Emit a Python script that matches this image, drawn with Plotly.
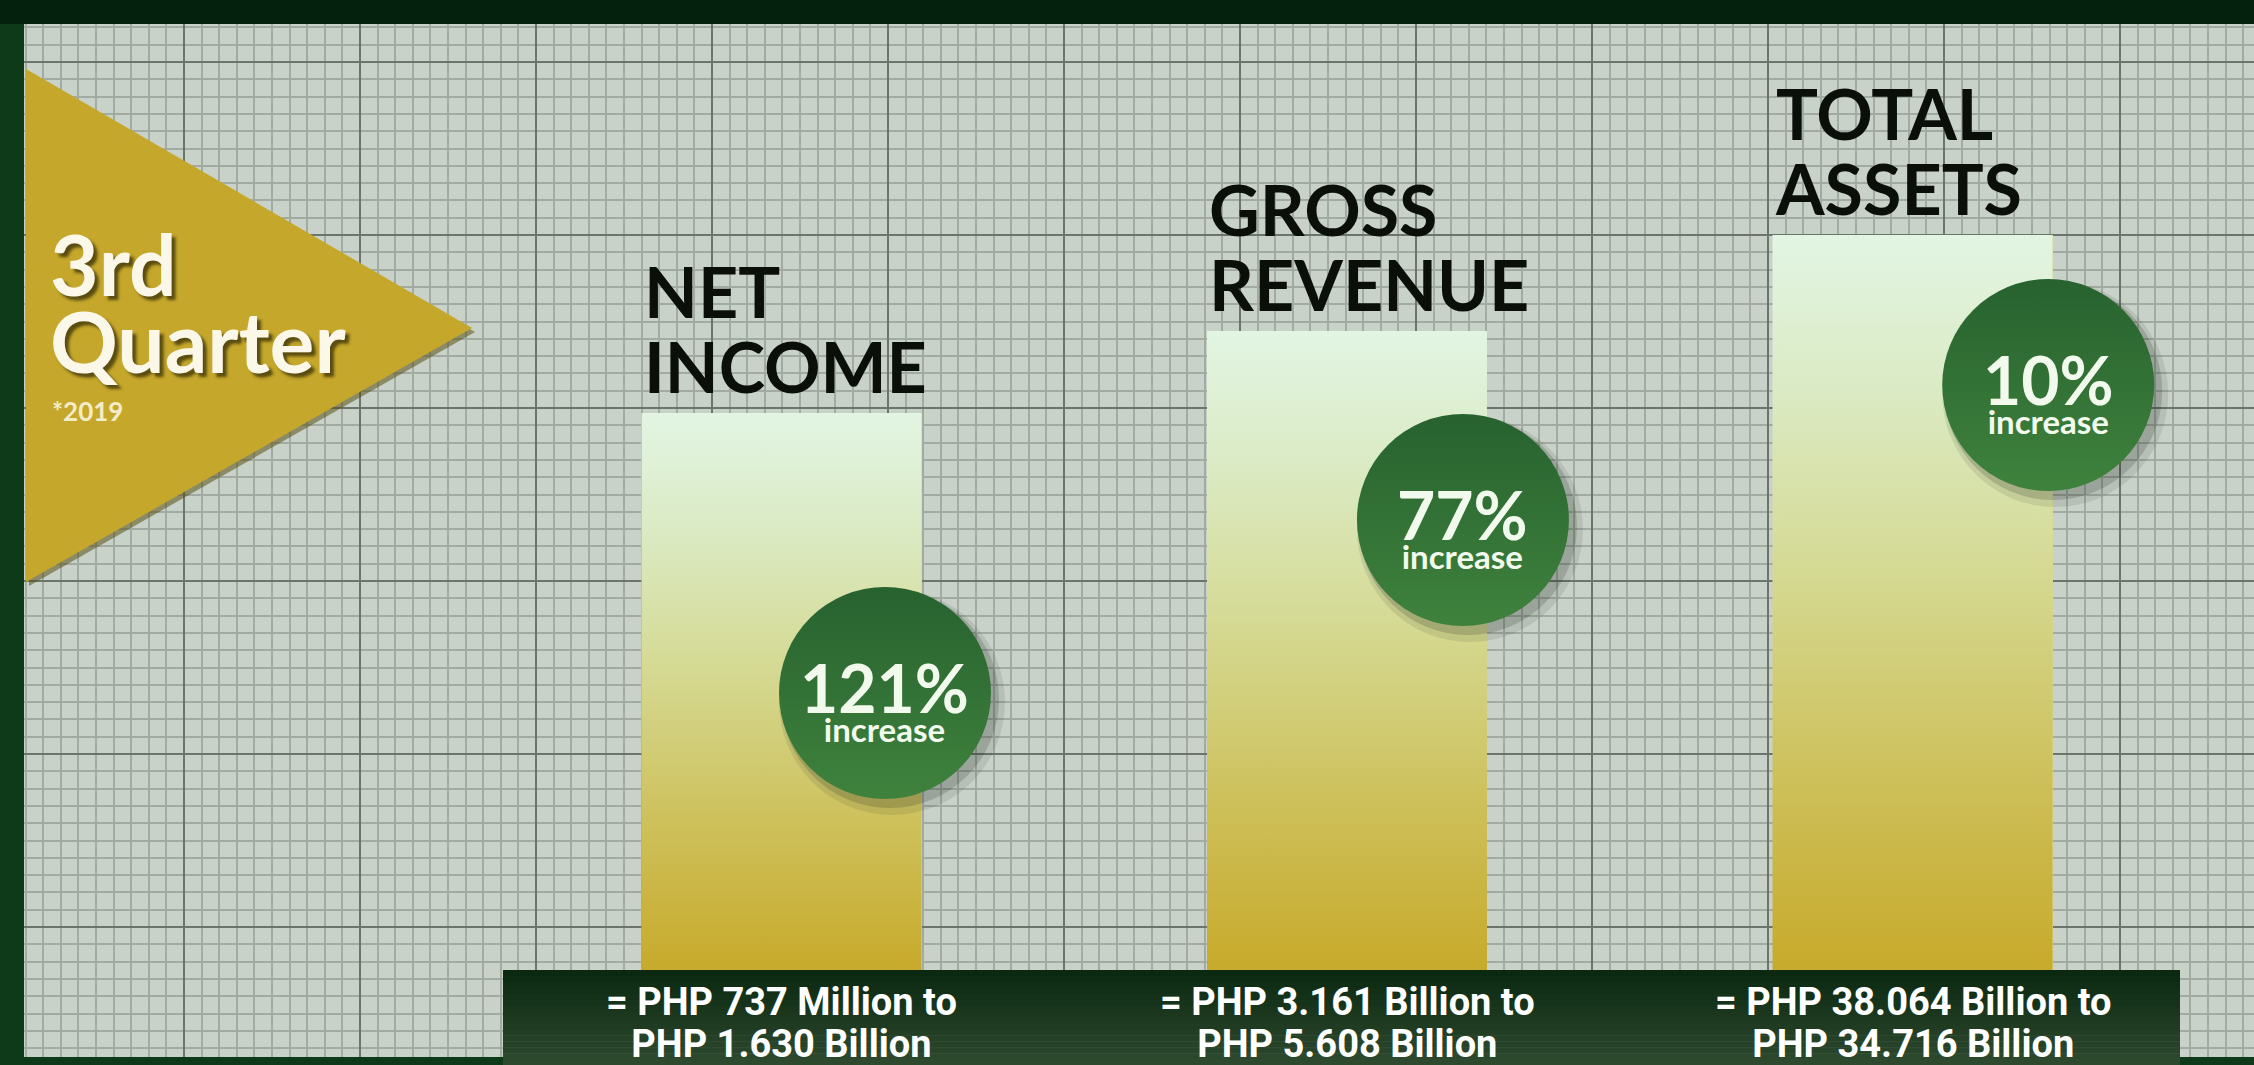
import plotly.graph_objects as go

# ---------------- data ----------------
categories = ["NET INCOME", "GROSS REVENUE", "TOTAL ASSETS"]
bar_heights = [557, 639, 735]          # relative bar heights (visual units)
pct_increase = [121, 77, 10]
from_values = ["PHP 737 Million", "PHP 3.161 Billion", "PHP 38.064 Billion"]
to_values = ["PHP 1.630 Billion", "PHP 5.608 Billion", "PHP 34.716 Billion"]
period_lines = ["3rd", "Quarter"]
year_note = "*2019"

# ---------------- layout constants ----------------
W, H = 2254, 1065
ML, MR, MT, MB = 24, 0, 24, 8
PW, PH = W - ML - MR, H - MT - MB
PX_PER_X = 565.5
X0_PAGE = 781.5                 # page px of first bar centre
Y0_PAGE = 970                   # page px of bar baseline
x_range = [(ML - X0_PAGE) / PX_PER_X, (W - MR - X0_PAGE) / PX_PER_X]
y_range = [Y0_PAGE - (H - MB), Y0_PAGE - MT]   # 1 unit = 1 px
BAR_W = 280 / PX_PER_X

badge_dx = [0.183, 0.205, 0.240]     # badge centre offset from bar centre (x units)
badge_y = [277, 450, 585]            # badge centre height (y units)
BADGE_D = 212

def px2x(p):
    return (p - X0_PAGE) / PX_PER_X

def ppx(p):      # page x px -> paper
    return (p - ML) / PW

def ppy(p):      # page y px -> paper
    return (H - MB - p) / PH

def sized(txt, px):
    return f"<span style='font-size:{px}px'>{txt}</span>"

GOLD = "#c5a72b"
bar_scale = [[0, "#c7aa2b"], [0.25, "#cdbf58"], [0.55, "#d5da94"],
             [0.8, "#dbebc6"], [1, "#e2f5e3"]]

fig = go.Figure()
xs = list(range(len(categories)))

# base bars
fig.add_trace(go.Bar(x=xs, y=bar_heights, width=BAR_W, marker=dict(color="#d5d890", line=dict(width=0)),
                     hoverinfo="skip", showlegend=False))
# gradient skin on each bar
for i, h in zip(xs, bar_heights):
    l, r = i - BAR_W / 2, i + BAR_W / 2
    fig.add_trace(go.Scatter(x=[l, r, r, l, l], y=[0, 0, h, h, 0], mode="none", fill="toself",
                             fillgradient=dict(type="vertical", colorscale=bar_scale, start=0, stop=h),
                             hoverinfo="skip", showlegend=False))

# badges (shadow + circle)
bx = [i + d for i, d in zip(xs, badge_dx)]
for k, (dx, dy, sz, op) in enumerate([(7, -9, BADGE_D + 14, 0.10), (5, -6, BADGE_D + 6, 0.18)]):
    fig.add_trace(go.Scatter(x=[v + dx / PX_PER_X for v in bx], y=[v + dy for v in badge_y], mode="markers",
                             marker=dict(size=sz, color=f"rgba(30,40,30,{op})", line=dict(width=0)),
                             hoverinfo="skip", showlegend=False))
fig.add_trace(go.Scatter(x=bx, y=badge_y, mode="markers",
                         marker=dict(size=BADGE_D, color="#27622f", line=dict(width=0),
                                     gradient=dict(type="vertical", color="#3f823d")),
                         hoverinfo="skip", showlegend=False))

ann = []
for i, cat, h, p, cx, cy, fv, tv in zip(xs, categories, bar_heights, pct_increase, bx, badge_y,
                                       from_values, to_values):
    w1, w2 = cat.split(" ", 1)
    lx = i - BAR_W / 2
    # two-line category title (line pitch 75px, glyphs 70px)
    ann.append(dict(x=lx, y=h, xref="x", yref="y", text=sized(w1, 70) + "<br>" + sized(w2, 70),
                    showarrow=False, xanchor="left", align="left", yanchor="bottom", yshift=3,
                    font=dict(family="Lato", size=57.7, color="#0a0f0a", weight="bold")))
    # badge text
    ann.append(dict(x=cx, y=cy, xref="x", yref="y", text=sized(f"{p}%", 66) + "<br>" + sized("increase", 33),
                    showarrow=False, xanchor="center", align="center", yanchor="middle", yshift=-5,
                    font=dict(family="Lato", size=22.3, color="#f2faee", weight="bold")))
    # change from -> to
    ann.append(dict(x=i, y=-53, xref="x", yref="y", text=sized(f"= {fv} to", 38) + "<br>" + sized(tv, 38),
                    showarrow=False, xanchor="center", align="center", yanchor="middle",
                    font=dict(family="Roboto", size=32.3, color="#ffffff", weight="bold")))

# period label
shadow = "4px 4px 3px rgba(70,60,10,0.85)"
ann.append(dict(x=ppx(48), y=ppy(316), xref="paper", yref="paper", text=period_lines[0], showarrow=False,
                xanchor="left", yanchor="bottom",
                font=dict(family="Lato", size=84, color="#fbf8ea", weight="bold", shadow=shadow)))
ann.append(dict(x=ppx(48), y=ppy(393), xref="paper", yref="paper", text=period_lines[1], showarrow=False,
                xanchor="left", yanchor="bottom",
                font=dict(family="Lato", size=84, color="#fbf8ea", weight="bold", shadow=shadow)))
ann.append(dict(x=ppx(50), y=ppy(411), xref="paper", yref="paper", text=year_note, showarrow=False,
                xanchor="left", yanchor="middle",
                font=dict(family="Lato", size=26, color="#f3ecc8", weight="bold")))

shapes = []
# frame top band
shapes.append(dict(type="rect", xref="paper", yref="paper", x0=ppx(0), x1=ppx(W), y0=ppy(24), y1=ppy(0),
                   fillcolor="#03210c", line=dict(width=0), layer="above"))
# triangle shadow + triangle
def tri(dx, dy):
    pts = [(26 + dx, 69 + dy), (472 + dx, 328 + dy), (26 + dx, 582 + dy)]
    return "M " + " L ".join(f"{ppx(a):.5f},{ppy(b):.5f}" for a, b in pts) + " Z"
shapes.append(dict(type="path", xref="paper", yref="paper", path=tri(3, 4), fillcolor="rgba(90,80,25,0.55)",
                   line=dict(width=0), layer="above"))
shapes.append(dict(type="path", xref="paper", yref="paper", path=tri(0, 0), fillcolor=GOLD,
                   line=dict(width=0), layer="above"))
# bottom dark box with vertical gradient
c0, c1 = (11, 40, 17), (45, 74, 47)
nb = 16
top, bot = 970, H
for k in range(nb):
    t = k / (nb - 1)
    col = tuple(int(round(a + (b - a) * t)) for a, b in zip(c0, c1))
    y_a = top + (bot - top) * k / nb
    y_b = top + (bot - top) * (k + 1) / nb
    shapes.append(dict(type="rect", xref="paper", yref="paper", x0=ppx(503), x1=ppx(2180),
                       y0=ppy(y_b + 0.5), y1=ppy(y_a), fillcolor="rgb(%d,%d,%d)" % col,
                       line=dict(width=0), layer="above"))

fig.update_layout(
    width=W, height=H,
    margin=dict(l=ML, r=MR, t=MT, b=MB, pad=0),
    paper_bgcolor="#0e3a1a",
    plot_bgcolor="#c9d2c8",
    showlegend=False,
    bargap=0,
    annotations=ann,
    shapes=shapes,
    xaxis=dict(range=x_range, showticklabels=False, ticks="", zeroline=False, showline=False,
               showgrid=True, gridcolor="#6c756b", gridwidth=2,
               tick0=px2x(184), dtick=176 / PX_PER_X, fixedrange=True,
               minor=dict(tick0=px2x(184), dtick=17.6 / PX_PER_X, showgrid=True,
                          gridcolor="#a2aba1", gridwidth=1.5)),
    yaxis=dict(range=y_range, showticklabels=False, ticks="", zeroline=False, showline=False,
               showgrid=True, gridcolor="#6c756b", gridwidth=2,
               tick0=43, dtick=173, fixedrange=True,
               minor=dict(tick0=43, dtick=17.3, showgrid=True, gridcolor="#a2aba1", gridwidth=1.5)),
)

fig.write_html("out.html", config={"displayModeBar": False},
               post_script="document.body.style.margin='0';document.body.style.overflow='hidden';")
